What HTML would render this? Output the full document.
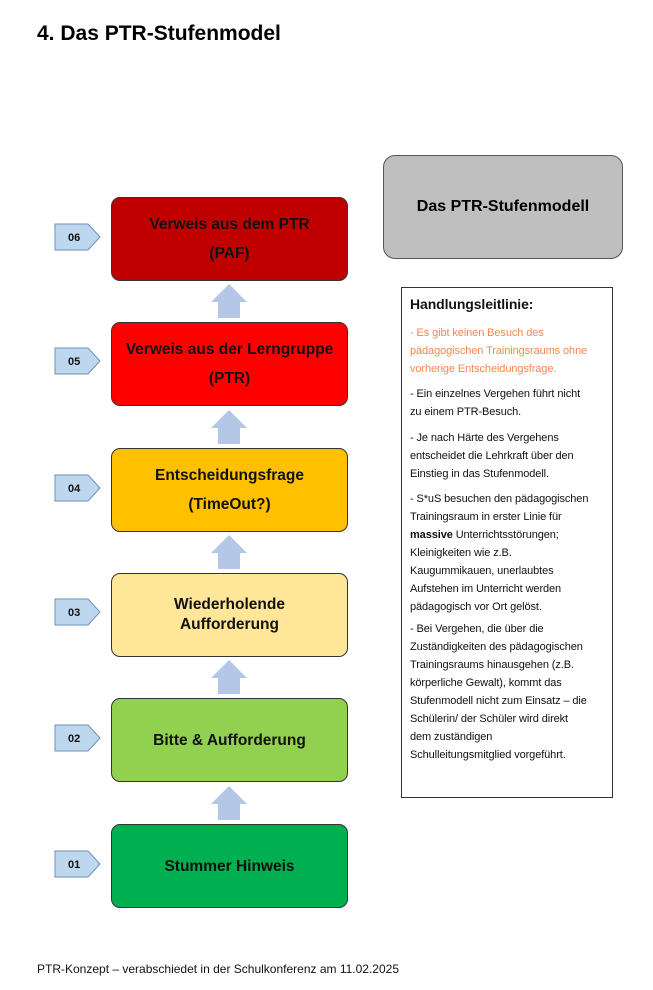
<!DOCTYPE html>
<html><head><meta charset="utf-8"><style>
body{margin:0;width:653px;height:990px;background:#fff;position:relative;font-family:"Liberation Sans",sans-serif;overflow:hidden}
.a{position:absolute}
.box{position:absolute;left:111px;width:235px;height:82px;border:1.5px solid #333;border-radius:9px;display:flex;align-items:center;justify-content:center;text-align:center;font-weight:bold;font-size:15.5px;line-height:29px;color:#111}
.t{position:absolute;left:410px;font-size:11px;line-height:18px;color:#111;width:200px;letter-spacing:-0.1px}
</style></head><body>
<div class="a" style="left:37px;top:22px;font-size:21px;font-weight:bold;color:#000">4. Das PTR-Stufenmodel</div>

<div class="box" style="top:197px;background:#c00000">Verweis aus dem PTR<br>(PAF)</div>
<div class="box" style="top:322px;background:#ff0000">Verweis aus der Lerngruppe<br>(PTR)</div>
<div class="box" style="top:448px;background:#ffc000">Entscheidungsfrage<br>(TimeOut?)</div>
<div class="box" style="top:573px;background:#ffe699;line-height:20px">Wiederholende<br>Aufforderung</div>
<div class="box" style="top:698px;background:#92d050">Bitte &amp; Aufforderung</div>
<div class="box" style="top:824px;background:#00b050">Stummer Hinweis</div>

<svg class="a" style="left:0;top:0" width="653" height="990">
<g fill="#b4c7e7">
<polygon points="218,318 218,302 211,302 229,284 247,302 240,302 240,318"/>
<polygon points="218,444 218,428 211,428 229,410 247,428 240,428 240,444"/>
<polygon points="218,569 218,553 211,553 229,535 247,553 240,553 240,569"/>
<polygon points="218,694 218,678 211,678 229,660 247,678 240,678 240,694"/>
<polygon points="218,820 218,804 211,804 229,786 247,804 240,804 240,820"/>
</g>
<g fill="#bdd7ee" stroke="#6f8fb5" stroke-width="1">
<polygon points="55,224 88,224 100,237 88,250 55,250"/>
<polygon points="55,348 88,348 100,361 88,374 55,374"/>
<polygon points="55,475 88,475 100,488 88,501 55,501"/>
<polygon points="55,599 88,599 100,612 88,625 55,625"/>
<polygon points="55,725 88,725 100,738 88,751 55,751"/>
<polygon points="55,851 88,851 100,864 88,877 55,877"/>
</g>
<g font-family="Liberation Sans" font-size="11" font-weight="bold" fill="#111">
<text x="68" y="241">06</text><text x="68" y="365">05</text><text x="68" y="492">04</text>
<text x="68" y="616">03</text><text x="68" y="742">02</text><text x="68" y="868">01</text>
</g>
</svg>

<div class="a" style="left:383px;top:155px;width:238px;height:102px;background:#bfbfbf;border:1.5px solid #555;border-radius:12px;display:flex;align-items:center;justify-content:center;font-weight:bold;font-size:16px">Das PTR-Stufenmodell</div>

<div class="a" style="left:401px;top:287px;width:210px;height:509px;border:1.2px solid #333"></div>
<div class="t" style="top:295px;font-weight:bold;font-size:14px">Handlungsleitlinie:</div>
<div class="t" style="top:324px;color:#f4884f">- Es gibt keinen Besuch des<br>pädagogischen Trainingsraums ohne<br>vorherige Entscheidungsfrage.</div>
<div class="t" style="top:385px">- Ein einzelnes Vergehen führt nicht<br>zu einem PTR-Besuch.</div>
<div class="t" style="top:429px">- Je nach Härte des Vergehens<br>entscheidet die Lehrkraft über den<br>Einstieg in das Stufenmodell.</div>
<div class="t" style="top:490px">- S*uS besuchen den pädagogischen<br>Trainingsraum in erster Linie für<br><b>massive</b> Unterrichtsstörungen;<br>Kleinigkeiten wie z.B.<br>Kaugummikauen, unerlaubtes<br>Aufstehen im Unterricht werden<br>pädagogisch vor Ort gelöst.</div>
<div class="t" style="top:620px">- Bei Vergehen, die über die<br>Zuständigkeiten des pädagogischen<br>Trainingsraums hinausgehen (z.B.<br>körperliche Gewalt), kommt das<br>Stufenmodell nicht zum Einsatz – die<br>Schülerin/ der Schüler wird direkt<br>dem zuständigen<br>Schulleitungsmitglied vorgeführt.</div>

<div class="a" style="left:37px;top:962px;font-size:12px;color:#111">PTR-Konzept – verabschiedet in der Schulkonferenz am 11.02.2025</div>
</body></html>
